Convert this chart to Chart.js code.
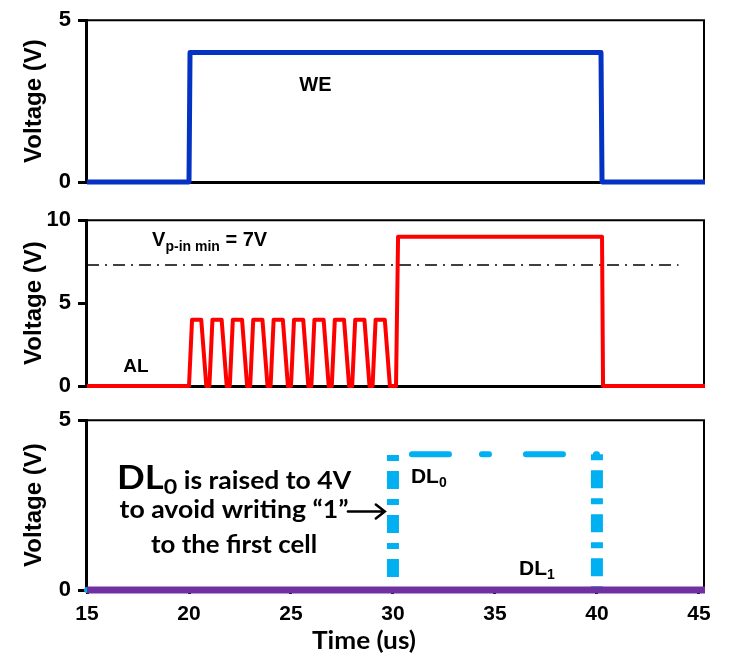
<!DOCTYPE html>
<html><head><meta charset="utf-8">
<script src="https://cdn.jsdelivr.net/npm/chart.js@4.4.1/dist/chart.umd.min.js"></script>
<style>
html,body{margin:0;padding:0;background:#fff;}
#wrap{position:relative;width:730px;height:659px;overflow:hidden;}
.p{position:absolute;left:0;width:730px;}
canvas{display:block;}
</style></head><body>
<div id="wrap">
<div class="p" style="top:0;height:222px"><canvas id="c1" width="730" height="222"></canvas></div>
<div class="p" style="top:200px;height:226px"><canvas id="c2" width="730" height="226"></canvas></div>
<div class="p" style="top:400px;height:259px"><canvas id="c3" width="730" height="259"></canvas></div>
</div>
<script>
// ---- data (time in us, voltage in V) ----
const xTicks = [15, 20, 25, 30, 35, 40, 45];
const weTicks = [0, 5];
const alTicks = [0, 5, 10];
const dlTicks = [0, 5];

const weX = [15, 20, 20.05, 40.2, 40.25, 45.3];
const weY = [0, 0, 4, 4, 0, 0];

const alX = [15,
  20, 20.15, 20.6, 20.85,
  21, 21.15, 21.6, 21.85,
  22, 22.15, 22.6, 22.85,
  23, 23.15, 23.6, 23.85,
  24, 24.15, 24.6, 24.85,
  25, 25.15, 25.6, 25.85,
  26, 26.15, 26.6, 26.85,
  27, 27.15, 27.6, 27.85,
  28, 28.15, 28.6, 28.85,
  29, 29.15, 29.6, 29.85,
  30.15, 30.25, 40.25, 40.3, 45.3];
const alY = [0,
  0, 4, 4, 0,
  0, 4, 4, 0,
  0, 4, 4, 0,
  0, 4, 4, 0,
  0, 4, 4, 0,
  0, 4, 4, 0,
  0, 4, 4, 0,
  0, 4, 4, 0,
  0, 4, 4, 0,
  0, 4, 4, 0,
  0, 9, 9, 0, 0];

const vpX = [15, 44];
const vpY = [7.3, 7.3];

const dl0X = [15, 30, 30, 40, 40, 45.3];
const dl0Y = [0, 0, 4, 4, 0, 0];

const dl1X = [15, 45.3];
const dl1Y = [0, 0];

const pts = (xs, ys) => xs.map((x, i) => ({x: x, y: ys[i]}));

// ---- helpers ----
const ARIAL = '"Liberation Sans", Arial, sans-serif';
const CAL = 'Lato, "Open Sans", sans-serif';

function drawRuns(ctx, px, py, runs, align, fitW) {
  const widths = runs.map(r => { ctx.font = r.font; return ctx.measureText(r.t).width; });
  const total = widths.reduce((a, b) => a + b, 0);
  const sx = fitW ? fitW / total : 1;
  const x0 = align === 'center' ? px - total * sx / 2 : px;
  ctx.save();
  ctx.translate(x0, py);
  ctx.scale(sx, 1);
  ctx.fillStyle = '#000';
  ctx.textBaseline = 'alphabetic';
  ctx.textAlign = 'left';
  let x = 0;
  runs.forEach((r, i) => { ctx.font = r.font; ctx.fillText(r.t, x, r.dy || 0); x += widths[i]; });
  ctx.restore();
}

function makeAnno(items) {
  return {
    id: 'anno',
    beforeDatasetsDraw(chart) {
      const {ctx, chartArea: a} = chart;
      ctx.save();
      ctx.strokeStyle = '#000';
      ctx.lineWidth = 2;
      ctx.beginPath();
      ctx.moveTo(a.left, a.top);
      ctx.lineTo(a.right, a.top);
      ctx.lineTo(a.right, a.bottom);
      ctx.stroke();
      ctx.restore();
    },
    afterDraw(chart) {
      const ctx = chart.ctx;
      const sx = chart.scales.x, sy = chart.scales.y;
      items.forEach(it => {
        if (it.arrow) {
          const x1 = sx.getPixelForValue(it.x1), x2 = sx.getPixelForValue(it.x2), y = sy.getPixelForValue(it.y);
          ctx.save();
          ctx.strokeStyle = '#000';
          ctx.lineWidth = 2.5;
          ctx.lineCap = 'round';
          ctx.beginPath();
          ctx.moveTo(x1, y); ctx.lineTo(x2, y);
          ctx.moveTo(x2 - 9, y - 7); ctx.lineTo(x2, y); ctx.lineTo(x2 - 9, y + 7);
          ctx.stroke();
          ctx.restore();
        } else {
          drawRuns(ctx, sx.getPixelForValue(it.x), sy.getPixelForValue(it.y), it.runs, it.align, it.fitW);
        }
      });
    }
  };
}

function makeOpts(yMax, yTicks, showX, xh, topPad) {
  return {
    responsive: false,
    animation: false,
    events: [],
    layout: {padding: {left: 0, right: 26, top: topPad, bottom: 0}},
    plugins: {legend: {display: false}, tooltip: {enabled: false}},
    elements: {point: {radius: 0}, line: {tension: 0, borderJoinStyle: 'round'}},
    scales: {
      x: {
        type: 'linear', min: 14.95, max: 45.25,
        afterFit: s => { s.height = xh; },
        afterBuildTicks: s => { s.ticks = xTicks.map(v => ({value: v})); },
        ticks: {display: showX, color: '#000', padding: 8, maxRotation: 0, autoSkip: false,
                font: {family: ARIAL, weight: 'bold', size: 21}},
        grid: {drawOnChartArea: false, drawTicks: showX, tickLength: 4, tickColor: '#000', tickWidth: 3},
        border: {display: true, color: '#000', width: 3}
      },
      y: {
        type: 'linear', min: 0, max: yMax,
        afterFit: s => { s.width = 86; },
        afterBuildTicks: s => { s.ticks = yTicks.map(v => ({value: v})); },
        ticks: {color: '#000', padding: 7, font: {family: ARIAL, weight: 'bold', size: 22}},
        grid: {drawOnChartArea: false, tickLength: 8, tickColor: '#000', tickWidth: 3},
        border: {display: true, color: '#000', width: 3},
        title: {display: true, text: 'Voltage (V)', color: '#000', padding: {top: 20, bottom: 0},
                font: {family: ARIAL, weight: 'bold', size: 24}}
      }
    }
  };
}

// ---- Panel 1: WE ----
new Chart(document.getElementById('c1'), {
  type: 'line',
  data: {datasets: [{data: pts(weX, weY), borderColor: '#0432c3', borderWidth: 5, clip: false}]},
  options: makeOpts(5, weTicks, false, 40, 15),
  plugins: [makeAnno([
    {x: 26.2, y: 2.82, align: 'center', runs: [{t: 'WE', font: 'bold 20px ' + ARIAL}]}
  ])]
});

// ---- Panel 2: AL ----
new Chart(document.getElementById('c2'), {
  type: 'line',
  data: {datasets: [
    {data: pts(alX, alY), borderColor: '#ff0000', borderWidth: 4, clip: false},
    {data: pts(vpX, vpY), borderColor: '#000', borderWidth: 1.5, borderDash: [12, 6, 2, 6], clip: false}
  ]},
  options: makeOpts(10, alTicks, false, 40, 16),
  plugins: [makeAnno([
    {x: 17.4, y: 0.82, align: 'center', runs: [{t: 'AL', font: 'bold 19px ' + ARIAL}]},
    {x: 18.19, y: 8.47, align: 'left', runs: [
      {t: 'V', font: 'bold 20px ' + ARIAL},
      {t: 'p-in min', font: 'bold 14px ' + ARIAL, dy: 5},
      {t: ' = 7V', font: 'bold 20px ' + ARIAL}
    ]}
  ])]
});

// ---- Panel 3: DL ----
const hDash = [37, 33, 7, 37];
new Chart(document.getElementById('c3'), {
  type: 'line',
  data: {datasets: [
    {data: pts(dl1X, dl1Y), borderColor: '#7030a0', borderWidth: 7, clip: false},
    {data: pts(dl0X, dl0Y), borderColor: '#00b0f0', borderWidth: 6, clip: false,
     borderCapStyle: 'round', borderDash: hDash,
     segment: {
       borderWidth: c => c.p0.parsed.x === c.p1.parsed.x ? 12 : 6,
       borderCapStyle: c => c.p0.parsed.x === c.p1.parsed.x ? 'butt' : 'round',
       borderDash: c => c.p0.parsed.x === c.p1.parsed.x ? [6, 10, 18, 10] : hDash,
       borderDashOffset: c => {
         if (c.p0.parsed.x === c.p1.parsed.x) return c.p0.parsed.y < c.p1.parsed.y ? 3 : 0;
         return c.p0.parsed.y > 0 ? 95 : 0;
       }
     }}
  ]},
  options: makeOpts(5, dlTicks, true, 69, 17),
  plugins: [makeAnno([
    {x: 22.21, y: 2.98, align: 'center', fitW: 234, runs: [
      {t: 'DL', font: 'bold 33px ' + CAL},
      {t: '0', font: 'bold 21px ' + CAL, dy: 5},
      {t: ' is raised to 4V', font: 'bold 24px ' + CAL}
    ]},
    {x: 22.21, y: 2.11, align: 'center', fitW: 229, runs: [{t: 'to avoid writing \u201c1\u201d', font: 'bold 24px ' + CAL}]},
    {x: 22.21, y: 1.10, align: 'center', fitW: 166, runs: [{t: 'to the first cell', font: 'bold 24px ' + CAL}]},
    {arrow: true, x1: 27.79, x2: 29.6, y: 2.31},
    {x: 30.88, y: 3.15, align: 'left', runs: [
      {t: 'DL', font: 'bold 21px ' + ARIAL},
      {t: '0', font: 'bold 14px ' + ARIAL, dy: 4}
    ]},
    {x: 36.18, y: 0.43, align: 'left', runs: [
      {t: 'DL', font: 'bold 21px ' + ARIAL},
      {t: '1', font: 'bold 14px ' + ARIAL, dy: 4}
    ]},
    {x: 28.58, y: -1.73, align: 'center', fitW: 104, runs: [{t: 'Time (us)', font: 'bold 24px ' + CAL}]}
  ])]
});
</script>
</body></html>
